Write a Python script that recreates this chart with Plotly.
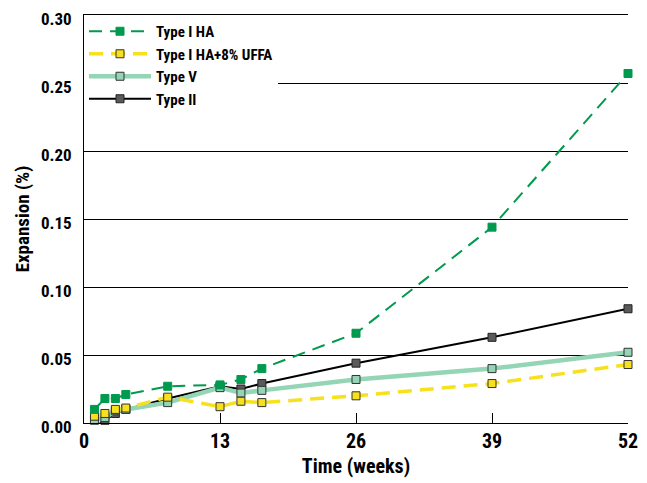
import plotly.graph_objects as go

weeks = [1, 2, 3, 4, 8, 13, 15, 17, 26, 39, 52]
type1_ha = [0.010, 0.018, 0.018, 0.021, 0.027, 0.028, 0.032, 0.040, 0.066, 0.144, 0.257]
type1_uffa = [0.005, 0.007, 0.010, 0.011, 0.019, 0.012, 0.016, 0.015, 0.020, 0.029, 0.043]
type5 = [0.002, 0.004, 0.009, 0.010, 0.015, 0.026, 0.022, 0.024, 0.032, 0.040, 0.052]
type2 = [-0.003, 0.002, 0.007, 0.010, 0.018, 0.027, 0.025, 0.029, 0.044, 0.063, 0.084]
x_ticks = [0, 13, 26, 39, 52]
y_ticks = [0.00, 0.05, 0.10, 0.15, 0.20, 0.25, 0.30]

FONT = "Liberation Sans Narrow, Roboto Condensed, Arial Narrow, sans-serif"

fig = go.Figure()
fig.add_trace(go.Scatter(
    x=weeks, y=type2, name="Type II", mode="lines+markers", legendrank=4,
    line=dict(color="#000000", width=2),
    marker=dict(symbol="square", size=8, color="#5a5a5a", line=dict(color="#222222", width=1)),
    cliponaxis=False))
fig.add_trace(go.Scatter(
    x=weeks, y=type5, name="Type V", mode="lines+markers", legendrank=3,
    line=dict(color="#93d5b4", width=4.5),
    marker=dict(symbol="square", size=8, color="#93d5b4", line=dict(color="#333333", width=1)),
    cliponaxis=False))
fig.add_trace(go.Scatter(
    x=weeks, y=type1_uffa, name="Type I HA+8% UFFA", mode="lines+markers", legendrank=2,
    line=dict(color="#f7e11e", width=3.5, dash="14px,8px"),
    marker=dict(symbol="square", size=8, color="#f7e11e", line=dict(color="#333333", width=1)),
    cliponaxis=False))
fig.add_trace(go.Scatter(
    x=weeks, y=type1_ha, name="Type I HA", mode="lines+markers", legendrank=1,
    line=dict(color="#009a4e", width=2, dash="13px,8px"),
    marker=dict(symbol="square", size=8, color="#009a4e", line=dict(color="#009a4e", width=1)),
    cliponaxis=False))

# The page body has an 8px default margin, so the figure is sized to fit the window.
fig.update_layout(
    width=639, height=475,
    margin=dict(l=76, r=19, t=7, b=60),
    paper_bgcolor="white", plot_bgcolor="white",
    font=dict(family=FONT, size=18, color="#000000", weight="bold"),
    showlegend=True,
    legend=dict(x=0.0, y=1.0, xanchor="left", yanchor="top",
                bgcolor="white", borderwidth=0,
                font=dict(family=FONT, size=15, color="#000000", weight="bold"),
                tracegroupgap=0, itemwidth=62),
    xaxis=dict(range=[0, 52], tickvals=x_ticks, ticktext=[str(v) for v in x_ticks],
               showgrid=False, zeroline=False, showline=True, linecolor="black",
               linewidth=1, mirror=True, ticks="inside", ticklen=10, tickcolor="black",
               automargin=False, ticklabeloverflow="allow",
               title=dict(text="Time (weeks)", font=dict(family=FONT, size=20, weight="bold"), standoff=6),
               tickfont=dict(family=FONT, size=20, weight="bold")),
    yaxis=dict(range=[0, 0.30], tickvals=y_ticks, tickformat=".2f",
               showgrid=True, gridcolor="black", gridwidth=1, zeroline=False,
               showline=True, linecolor="black", linewidth=1, automargin=False,
               ticks="", ticklabeloverflow="allow", ticklabelstandoff=8, ticklabelshift=4,
               title=dict(text="Expansion (%)", font=dict(family=FONT, size=19, weight="bold"), standoff=6),
               tickfont=dict(family=FONT, size=17, weight="bold")),
)

fig.write_html("out.html")
